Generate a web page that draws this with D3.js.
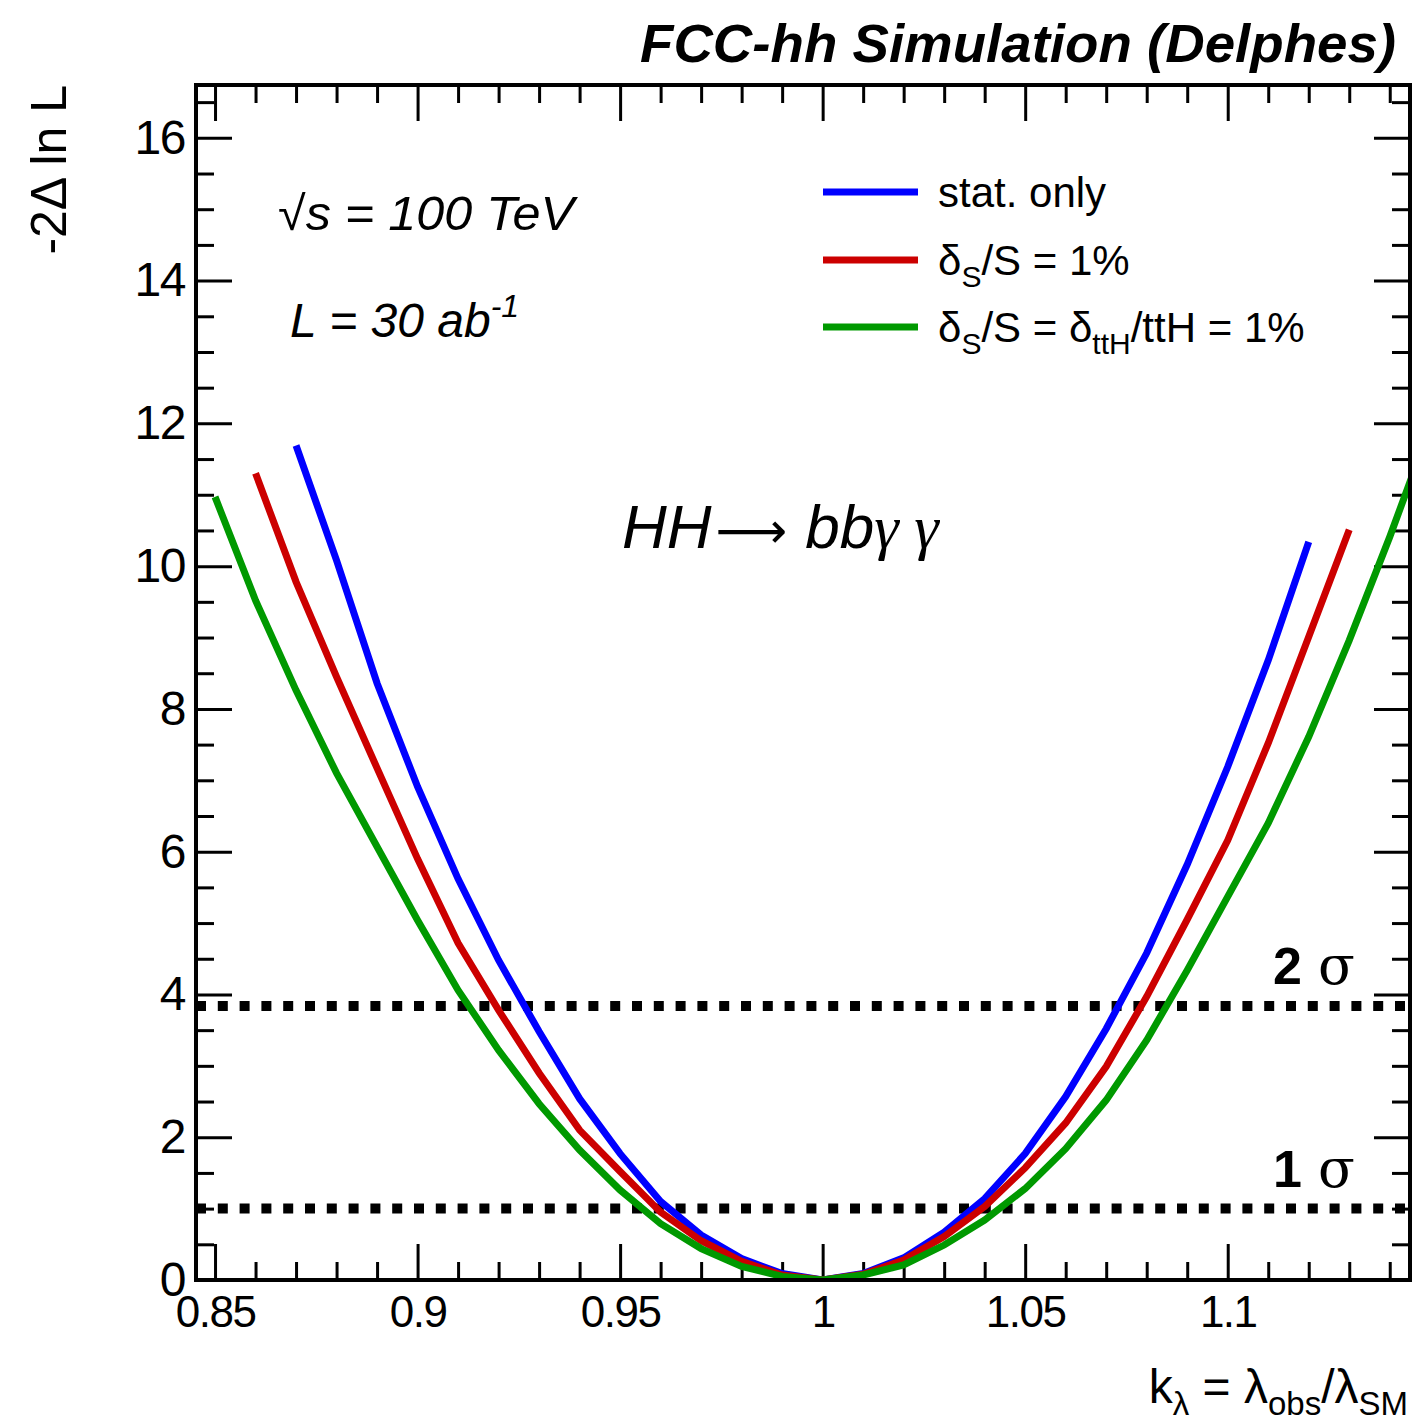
<!DOCTYPE html>
<html>
<head>
<meta charset="utf-8">
<script src="https://cdn.jsdelivr.net/npm/d3@7"></script>
<style>
  body { margin: 0; background: #fff; }
  text { font-family: "Liberation Sans", Arial, sans-serif; fill: #000; }
</style>
</head>
<body>
<svg id="chart"></svg>
<script>
// kappa_lambda scan points
const kappa = [0.85, 0.86, 0.87, 0.88, 0.89, 0.90, 0.91, 0.92, 0.93, 0.94, 0.95, 0.96, 0.97, 0.98, 0.99, 1.00,
               1.01, 1.02, 1.03, 1.04, 1.05, 1.06, 1.07, 1.08, 1.09, 1.10, 1.11, 1.12, 1.13, 1.14, 1.15];

// -2 Delta ln L, null where the scan was not drawn
const statOnly = [null, null, 11.69, 10.08, 8.36, 6.91, 5.62, 4.48, 3.48, 2.54, 1.77, 1.10, 0.63, 0.30, 0.09, 0.00,
                  0.09, 0.31, 0.67, 1.14, 1.77, 2.57, 3.52, 4.58, 5.82, 7.19, 8.68, 10.34, null, null, null];
const sigSyst = [null, 11.30, 9.78, 8.45, 7.17, 5.90, 4.72, 3.78, 2.90, 2.10, 1.52, 0.95, 0.55, 0.26, 0.07, 0.00,
                 0.08, 0.28, 0.61, 1.03, 1.57, 2.20, 2.99, 3.97, 5.05, 6.16, 7.52, 9.01, 10.51, null, null];
const sigTthSyst = [10.97, 9.52, 8.26, 7.10, 6.07, 5.04, 4.06, 3.22, 2.47, 1.82, 1.26, 0.79, 0.44, 0.19, 0.05, 0.00,
                    0.07, 0.21, 0.49, 0.84, 1.28, 1.84, 2.52, 3.36, 4.34, 5.37, 6.40, 7.61, 8.96, 10.41, 11.95];

const seriesNames = ['stat. only', 'sig', 'sigtth'];
const seriesColors = ['#0000ff', '#cc0000', '#009900'];
const sigmaLevels = [1.0, 3.84];
const sigmaLabels = ['1', '2'];

const xMajor = [0.85, 0.9, 0.95, 1, 1.05, 1.1];
const yMajor = [0, 2, 4, 6, 8, 10, 12, 14, 16];

const W = 1413, H = 1427;
const margin = { top: 85, right: 3, bottom: 147, left: 196 };
const width = W - margin.left - margin.right;
const height = H - margin.top - margin.bottom;

const svg = d3.select('#chart')
    .attr('width', W)
    .attr('height', H);

const g = svg.append('g')
    .attr('transform', `translate(${margin.left},${margin.top})`);

const x = d3.scaleLinear()
    .domain([0.8453, 1.145])
    .range([0, width]);

const y = d3.scaleLinear()
    .domain([0, 16.74])
    .range([height, 0]);

g.append('clipPath')
    .attr('id', 'plotclip')
    .append('rect')
    .attr('width', width)
    .attr('height', height);

// minor tick positions
const xMinor = d3.range(85, 115).map(d => d / 100).filter(d => !xMajor.some(m => Math.abs(m - d) < 1e-6));
const yMinor = d3.range(0, 34).map(d => d / 2).filter(d => d % 2 !== 0);

function styleAxis(sel, size) {
    sel.select('.domain').remove();
    sel.selectAll('line').attr('stroke', '#000').attr('stroke-width', 3);
    sel.selectAll('text').style('font-size', (size || 46) + 'px').style('letter-spacing', '-1.5px').attr('fill', '#000');
}

// bottom
g.append('g').attr('transform', `translate(0,${height})`)
    .call(d3.axisBottom(x).tickValues(xMajor).tickSize(-36).tickPadding(16).tickFormat(d3.format('')))
    .call(styleAxis, 44);
g.append('g').attr('transform', `translate(0,${height})`)
    .call(d3.axisBottom(x).tickValues(xMinor).tickSize(-18).tickFormat(''))
    .call(styleAxis);
// top
g.append('g')
    .call(d3.axisTop(x).tickValues(xMajor).tickSize(-36).tickFormat(''))
    .call(styleAxis);
g.append('g')
    .call(d3.axisTop(x).tickValues(xMinor).tickSize(-18).tickFormat(''))
    .call(styleAxis);
// left
g.append('g')
    .call(d3.axisLeft(y).tickValues(yMajor).tickSize(-36).tickPadding(11).tickFormat(d3.format('d')))
    .call(styleAxis, 48);
g.append('g')
    .call(d3.axisLeft(y).tickValues(yMinor).tickSize(-18).tickFormat(''))
    .call(styleAxis);
// right
g.append('g').attr('transform', `translate(${width},0)`)
    .call(d3.axisRight(y).tickValues(yMajor).tickSize(-36).tickFormat(''))
    .call(styleAxis);
g.append('g').attr('transform', `translate(${width},0)`)
    .call(d3.axisRight(y).tickValues(yMinor).tickSize(-18).tickFormat(''))
    .call(styleAxis);

// sigma lines
g.selectAll('.sigma')
    .data(sigmaLevels)
    .enter().append('line')
    .attr('class', 'sigma')
    .attr('x1', 0)
    .attr('x2', width)
    .attr('y1', d => y(d))
    .attr('y2', d => y(d))
    .attr('stroke', '#000')
    .attr('stroke-width', 10)
    .attr('stroke-dasharray', '10,11.8');

// curves
const allSeries = [statOnly, sigSyst, sigTthSyst];
const line = d3.line()
    .defined(d => d[1] !== null)
    .x(d => x(d[0]))
    .y(d => y(d[1]));

g.append('g').attr('clip-path', 'url(#plotclip)')
    .selectAll('path')
    .data(allSeries)
    .enter().append('path')
    .attr('d', s => line(kappa.map((k, i) => [k, s[i]])))
    .attr('fill', 'none')
    .attr('stroke', (s, i) => seriesColors[i])
    .attr('stroke-width', 7);

// frame
g.append('rect')
    .attr('width', width)
    .attr('height', height)
    .attr('fill', 'none')
    .attr('stroke', '#000')
    .attr('stroke-width', 4);

// sigma labels
sigmaLabels.forEach((lab, i) => {
    const t = g.append('text')
        .attr('x', width - 137)
        .attr('y', y(sigmaLevels[i]) - 22)
        .style('font-size', '52px');
    t.append('tspan').style('font-weight', 'bold').text(lab);
    t.append('tspan').attr('dx', 16).style('font-family', '"DejaVu Serif", "Liberation Serif", serif').style('font-size', '54px').text('σ');
});

// legend
const legendY = [192, 260, 327];
const lg = svg.append('g');
legendY.forEach((ly, i) => {
    lg.append('line')
        .attr('x1', 823).attr('x2', 918)
        .attr('y1', ly).attr('y2', ly)
        .attr('stroke', seriesColors[i])
        .attr('stroke-width', 7);
});
lg.append('text').attr('x', 938).attr('y', 207).style('font-size', '42px').text(seriesNames[0]);
const l2 = lg.append('text').attr('x', 938).attr('y', 275).style('font-size', '42px');
l2.append('tspan').text('δ');
l2.append('tspan').attr('dy', 12).style('font-size', '30px').text('S');
l2.append('tspan').attr('dy', -12).text('/S = 1%');
const l3 = lg.append('text').attr('x', 938).attr('y', 342).style('font-size', '42px');
l3.append('tspan').text('δ');
l3.append('tspan').attr('dy', 12).style('font-size', '30px').text('S');
l3.append('tspan').attr('dy', -12).text('/S = δ');
l3.append('tspan').attr('dy', 12).style('font-size', '30px').text('ttH');
l3.append('tspan').attr('dy', -12).text('/ttH = 1%');

// title
svg.append('text')
    .attr('x', 1396)
    .attr('y', 62)
    .attr('text-anchor', 'end')
    .attr('textLength', 756)
    .attr('lengthAdjust', 'spacingAndGlyphs')
    .style('font-size', '54px')
    .style('font-weight', 'bold')
    .style('font-style', 'italic')
    .text('FCC-hh Simulation (Delphes)');

// annotations
svg.append('text')
    .attr('x', 278).attr('y', 230)
    .attr('textLength', 296)
    .attr('lengthAdjust', 'spacingAndGlyphs')
    .style('font-size', '48px').style('font-style', 'italic')
    .text('√s = 100 TeV');
const lumi = svg.append('text')
    .attr('x', 290).attr('y', 337)
    .style('font-size', '48px').style('font-style', 'italic');
lumi.append('tspan').text('L = 30 ab');
lumi.append('tspan').attr('dy', -20).style('font-size', '32px').text('-1');

const proc = svg.append('text')
    .attr('x', 622).attr('y', 548)
    .style('font-size', '62px').style('font-style', 'italic');
proc.append('tspan').text('HH');
proc.append('tspan').attr('dx', 4).style('font-style', 'normal').style('font-family', '"DejaVu Sans", sans-serif').style('font-size', '50px').text('⟶');
proc.append('tspan').attr('dx', 18).text('bb');
proc.append('tspan').style('font-family', '"Liberation Serif", serif').text('γ γ');

// axis titles
svg.append('text')
    .attr('transform', 'translate(66,85) rotate(-90)')
    .attr('text-anchor', 'end')
    .style('font-size', '50px')
    .text('-2Δ ln L');

const xt = svg.append('text')
    .attr('x', 1408).attr('y', 1403)
    .attr('text-anchor', 'end')
    .style('font-size', '48px');
xt.append('tspan').text('k');
xt.append('tspan').attr('dy', 12).style('font-size', '33px').text('λ');
xt.append('tspan').attr('dy', -12).text(' = λ');
xt.append('tspan').attr('dy', 12).style('font-size', '33px').text('obs');
xt.append('tspan').attr('dy', -12).text('/λ');
xt.append('tspan').attr('dy', 12).style('font-size', '33px').text('SM');
</script>
</body>
</html>
